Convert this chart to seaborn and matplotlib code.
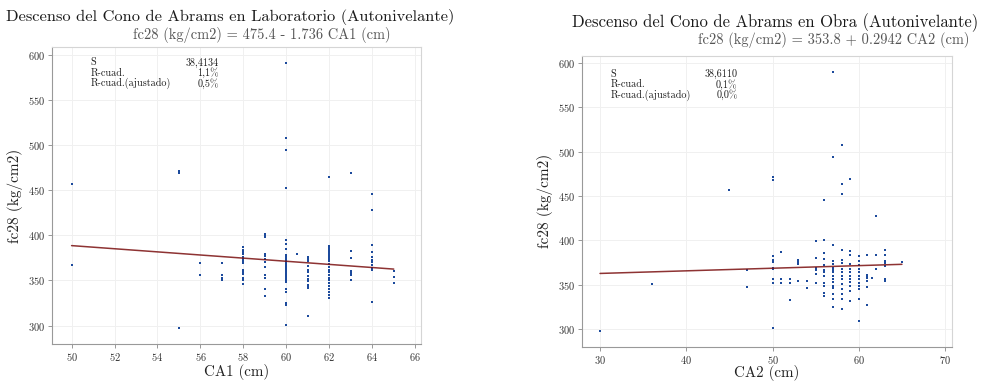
import matplotlib
matplotlib.use("Agg")
import matplotlib.pyplot as plt
import numpy as np
import pandas as pd
import seaborn as sns

# Laboratorio: descenso CA1 (cm) vs fc28 (kg/cm2)
ca1 = (
    [50] * 2 + [55] * 3 + [56] * 2 + [57] * 4 + [58] * 14 + [59] * 12
    + [60] * 28 + [60.5] + [61] * 14 + [62] * 23 + [63] * 8 + [64] * 11 + [65] * 3
)
fc_lab = [
    457, 367,
    471, 469, 297,
    369, 356,
    369, 356, 353, 351,
    387, 384, 381, 379, 376, 374, 372, 369, 362, 359, 357, 353, 351, 346,
    401, 400, 398, 379, 377, 374, 370, 365, 356, 353, 340, 333,
    591, 508, 495, 452, 395, 390, 385, 378, 376, 374, 372, 370, 368, 366,
    364, 362, 360, 358, 356, 354, 352, 350, 348, 340, 337, 325, 323, 301,
    379,
    376, 375, 373, 371, 366, 362, 359, 355, 352, 349, 345, 343, 342, 310,
    465, 388, 386, 384, 382, 380, 378, 376, 374, 371, 368, 365, 362, 359,
    356, 353, 350, 347, 344, 341, 337, 334, 331,
    469, 383, 375, 360, 358, 356, 351, 350,
    446, 428, 389, 382, 376, 373, 370, 367, 364, 362, 326,
    361, 354, 347,
]

# Obra: descenso CA2 (cm) vs fc28 (kg/cm2)
ca2 = (
    [30] + [36] + [45] + [47] * 2 + [50] * 11 + [51] * 3 + [52] * 3 + [53] * 4
    + [54] * 2 + [55] * 6 + [56] * 12 + [57] * 16 + [58] * 15 + [59] * 12
    + [60] * 12 + [61] * 7 + [61.5] + [62] * 3 + [63] * 7 + [65]
)
fc_obra = [
    298,
    351,
    457,
    367, 347,
    471, 468, 382, 378, 377, 369, 368, 356, 352, 301, 376,
    387, 356, 352,
    356, 352, 333,
    378, 376, 373, 354,
    354, 346,
    399, 380, 369, 366, 362, 352,
    446, 400, 386, 379, 372, 367, 364, 360, 352, 348, 340, 337,
    590, 494, 395, 377, 373, 369, 367, 364, 360, 356, 353, 349, 346, 339, 334, 325,
    508, 464, 452, 389, 378, 374, 368, 364, 360, 356, 351, 345, 339, 334, 323,
    469, 388, 383, 373, 368, 364, 360, 356, 353, 349, 343, 331,
    382, 377, 372, 368, 364, 360, 356, 352, 349, 345, 334, 309,
    383, 361, 359, 357, 354, 347, 327,
    358,
    428, 383, 368,
    389, 383, 377, 374, 371, 356, 354,
    375,
]

# Ecuaciones de regresión y estadísticos
fit1 = (475.4, -1.736)
fit2 = (353.8, 0.2942)
stats1 = ["38,4134", "1,1%", "0,5%"]
stats2 = ["38,6110", "0,1%", "0,0%"]
stat_names = ["S", "R-cuad.", "R-cuad.(ajustado)"]

lab = pd.DataFrame({"x": ca1, "y": fc_lab})
obra = pd.DataFrame({"x": ca2, "y": fc_obra})

sns.set_theme(style="whitegrid")
plt.rcParams["font.family"] = ["cmr10", "DejaVu Serif"]
plt.rcParams["axes.unicode_minus"] = False
plt.rcParams["axes.formatter.use_mathtext"] = True

DOT = "#1c4a9c"
LINE = "#7a0f0f"

fig = plt.figure(figsize=(9.86, 3.85), dpi=100)
ax1 = fig.add_axes([0.0530, 0.1065, 0.374, 0.7706])
ax2 = fig.add_axes([0.5906, 0.0985, 0.3747, 0.757])


def draw(ax, df, fit, stats, xlim, xticks, xlabel, xlab_y):
    sns.scatterplot(data=df, x="x", y="y", ax=ax, color=DOT, marker="s",
                    s=3.5, linewidth=0, zorder=3)
    xs = np.array([df["x"].min(), df["x"].max()])
    line = pd.DataFrame({"x": xs, "y": fit[0] + fit[1] * xs})
    sns.lineplot(data=line, x="x", y="y", ax=ax, color=LINE, lw=1.1,
                 alpha=0.85, zorder=4)
    ax.set_xlim(*xlim)
    ax.set_ylim(279.5, 608.5)
    ax.set_xticks(xticks)
    ax.set_yticks(range(300, 601, 50))
    ax.grid(True, color="#f0f0f0", lw=0.7)
    ax.tick_params(axis="both", labelsize=7.5, colors="#333333", length=3,
                   width=0.6, color="#888888", pad=2, bottom=True, left=True)
    for side, sp in ax.spines.items():
        sp.set_color("#999999" if side in ("left", "bottom") else "#d5d5d5")
        sp.set_linewidth(0.8)
    ax.set_xlabel(xlabel, fontsize=10.8, color="#222222", va="center")
    ax.xaxis.set_label_coords(0.5, xlab_y)
    ax.set_ylabel("fc28 (kg/cm2)", fontsize=11, color="#222222", labelpad=4)
    return ax


draw(ax1, lab, fit1, stats1, (49.1, 66.27), range(50, 67, 2), "CA1 (cm)", -0.093)
draw(ax2, obra, fit2, stats2, (27.95, 70.78), range(30, 71, 10), "CA2 (cm)", -0.09)

for ax, stats, xs, xv, ys in [
    (ax1, stats1, 0.104, 0.452, [0.949, 0.914, 0.878]),
    (ax2, stats2, 0.077, 0.420, [0.936, 0.901, 0.865]),
]:
    for name, val, y in zip(stat_names, stats, ys):
        ax.text(xs, y, name, transform=ax.transAxes, fontsize=7.3,
                va="center", ha="left", color="#1a1a1a")
        ax.text(xv, y, val, transform=ax.transAxes, fontsize=7.3,
                va="center", ha="right", color="#1a1a1a")

fig.text(0.2333, 0.956, "Descenso del Cono de Abrams en Laboratorio (Autonivelante)",
         ha="center", va="center", fontsize=11.8, color="#1a1a1a")
fig.text(0.2657, 0.910, "fc28 (kg/cm2) = 475.4 - 1.736 CA1 (cm)",
         ha="center", va="center", fontsize=10.4, color="#555555")
fig.text(0.786, 0.942, "Descenso del Cono de Abrams en Obra (Autonivelante)",
         ha="center", va="center", fontsize=12, color="#1a1a1a")
fig.text(0.846, 0.897, "fc28 (kg/cm2) = 353.8 + 0.2942 CA2 (cm)",
         ha="center", va="center", fontsize=10.4, color="#555555")

fig.savefig("out.png", dpi=100, facecolor="white")
